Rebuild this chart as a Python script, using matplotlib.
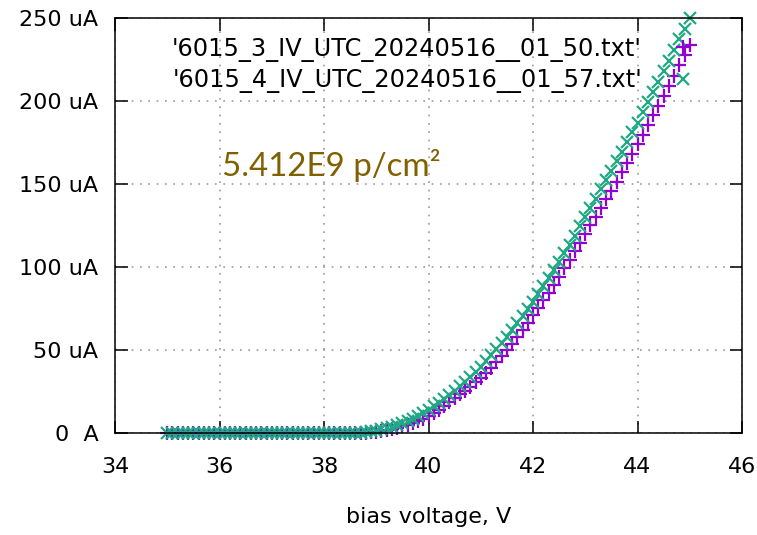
import matplotlib
matplotlib.use("Agg")
import matplotlib.pyplot as plt
import numpy as np

# bias voltage steps (V), 35.0 .. 45.0 in 0.1 V
voltage = np.round(np.arange(350, 451) / 10.0, 1)

# '6015_3_IV_UTC_20240516__01_50.txt'  (uA)
current_3 = [0.0] * 36 + [
    0.0, 0.1, 0.2, 0.5, 0.8, 1.3, 1.8, 2.5, 3.2, 4.0,
    5.0, 6.1, 7.3, 8.6, 10.0, 11.8, 13.8, 16.0, 18.4, 21.0,
    23.3, 25.6, 28.0, 30.5, 33.0, 36.1, 39.4, 42.8, 46.3, 50.0,
    53.9, 58.0, 62.2, 66.5, 71.0, 75.5, 80.0, 84.6, 89.3, 94.0,
    99.1, 104.3, 109.5, 114.7, 120.0, 125.2, 130.4, 135.6, 140.8, 146.0,
    151.5, 157.1, 162.7, 168.3, 174.0, 179.8, 185.6, 191.4, 197.2, 203.0,
    209.1, 215.3, 221.5, 227.7, 234.0,
]

# '6015_4_IV_UTC_20240516__01_57.txt'  (uA)
current_4 = [0.0] * 35 + [
    0.0, 0.1, 0.3, 0.6, 1.0, 1.5, 2.2, 3.0, 3.9, 4.9,
    6.0, 7.3, 8.7, 10.2, 12.0, 14.0, 16.1, 18.3, 20.6, 23.0,
    25.5, 28.2, 31.0, 33.9, 36.9, 40.0, 43.4, 46.9, 50.5, 54.2,
    58.0, 62.0, 66.1, 70.3, 74.6, 79.0, 83.6, 88.3, 93.1, 98.0,
    103.0, 108.2, 113.5, 118.9, 124.4, 130.0, 135.5, 141.1, 146.7, 152.3,
    158.0, 163.7, 169.5, 175.3, 181.1, 187.0, 193.1, 199.2, 205.4, 211.7,
    218.0, 224.3, 230.7, 237.1, 243.5, 250.0,
]

labels = ["'6015_3_IV_UTC_20240516__01_50.txt'",
          "'6015_4_IV_UTC_20240516__01_57.txt'"]

xticks = [34, 36, 38, 40, 42, 44, 46]
yticks = [0, 50, 100, 150, 200, 250]
ytick_labels = ['0  A', '50 uA', '100 uA', '150 uA', '200 uA', '250 uA']

fluence = '5.412E9 p/cm\u00b2'

fs = 16
fig = plt.figure(figsize=(7.57, 5.35), dpi=100)
ax = fig.add_axes([115/757, 1 - 433/535, 627/757, 415/535])

ax.plot(voltage, current_3, linestyle='none', marker='+', ms=10, mew=1.6,
        color='#9400D3', label=labels[0], clip_on=False)
ax.plot(voltage, current_4, linestyle='none', marker='x', ms=9, mew=1.6,
        color='#20A884', label=labels[1], clip_on=False)

ax.set_xlim(34, 46)
ax.set_ylim(0, 250)
ax.set_xticks(xticks)
ax.set_yticks(yticks)
ax.set_yticklabels(ytick_labels)

ax.grid(True, color='#999999', linestyle=(0, (1, 4)), linewidth=1.2)
ax.tick_params(direction='in', length=9, width=1.1, top=True, right=True,
               labelsize=fs, colors='black')
ax.tick_params(axis='y', pad=12)
ax.tick_params(axis='x', pad=17)
for s in ax.spines.values():
    s.set_linewidth(1.1)

ax.set_xlabel('bias voltage, V', fontsize=fs, labelpad=22)

ax.legend(loc='upper right', bbox_to_anchor=(0.944, 0.955), frameon=False,
          markerfirst=False, handletextpad=0.7, handlelength=2.0,
          borderpad=0, borderaxespad=0, labelspacing=0.28, fontsize=17.3)

fig.text(222/757, 1 - 176/535, fluence, color='#806000', fontsize=23.8,
         family='Lato', va='baseline', ha='left')

fig.savefig('out.png', dpi=100)
